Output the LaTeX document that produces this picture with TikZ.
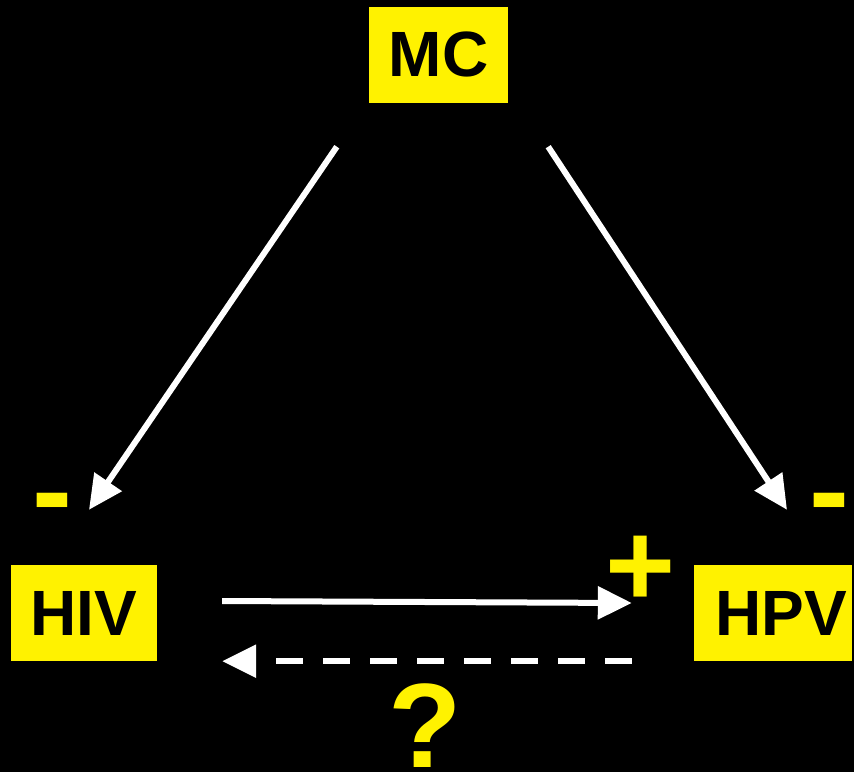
\documentclass[tikz,border=0pt]{standalone}
\usepackage{fontspec}
\setmainfont{Liberation Sans}
\usetikzlibrary{arrows.meta}

\begin{document}
\begin{tikzpicture}[
  x=1pt,y=1pt,
  block/.style={fill=yellow,text=black,inner sep=0pt,minimum height=96pt,
    font=\fontsize{64}{64}\selectfont\bfseries},
  sign/.style={text=yellow,inner sep=0pt,font=\fontsize{120}{120}\selectfont\bfseries},
  to/.style={-{Triangle[length=34pt,width=32pt]},white,line width=6pt},
  back/.style={to,dash pattern=on 27pt off 20pt}]

  % Background fixes the page size
  \fill[black] (0,0) rectangle (854,-772);
  \useasboundingbox (0,0) rectangle (854,-772);

  % Position the boxes at coordinates
  \node[block,minimum width=139pt] (MC) at (438.5,-54.5) {MC};
  \node[block,minimum width=146pt] (HIV) at (84,-613) {HIV};
  \node[block,minimum width=158pt] (HPV) at (773,-613) {\hspace{16pt}HPV};

  % Signs of the effects
  \node[sign] (minusHIV) at (52,-512) {-};
  \node[sign] (minusHPV) at (829,-512) {-};
  \node[sign] (plusHPV) at (640.5,-571) {+};
  \node[sign,anchor=base] (query) at (425,-767) {?};

  % Draw the arrows between the boxes
  \draw[to] ([xshift=-32pt,yshift=-44pt]MC.south west) -- ([xshift=5pt,yshift=55pt]HIV.north);
  \draw[to] ([xshift=40pt,yshift=-44pt]MC.south east) -- ([xshift=14pt,yshift=55pt]HPV.north);
  \draw[to] ([xshift=65pt,yshift=12pt]HIV.east) -- ([xshift=-62pt,yshift=10pt]HPV.west);
  \draw[back] ([xshift=-62pt]HPV.south west) -- ([xshift=65pt]HIV.south east);
\end{tikzpicture}
\end{document}
